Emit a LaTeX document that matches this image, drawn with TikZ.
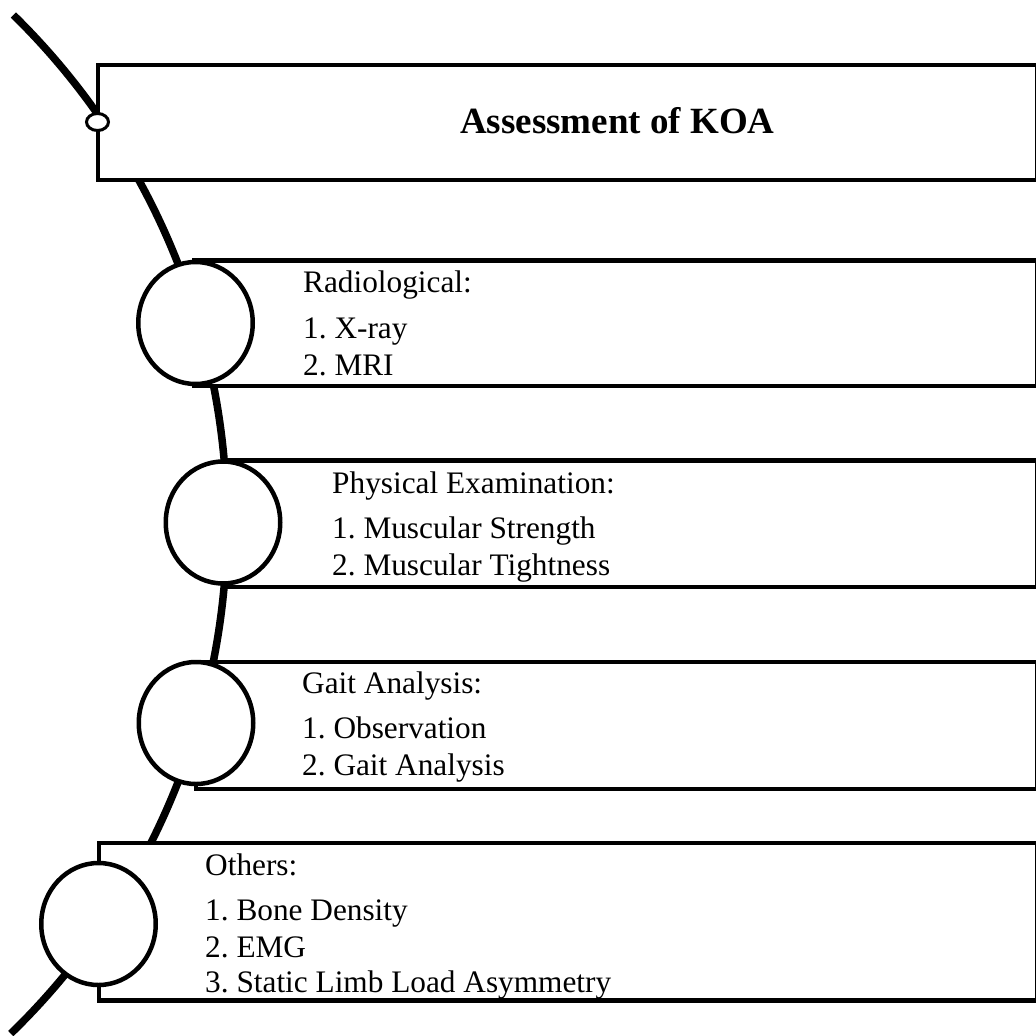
\documentclass[tikz,border=0pt]{standalone}
\usepackage{fontspec}
\setmainfont{Liberation Serif}
\usetikzlibrary{shapes.geometric}
\frenchspacing
\begin{document}
\begin{tikzpicture}[x=1pt,y=-1pt,
  panel/.style={draw=black,line width=4.5pt,fill=white,rectangle,inner sep=0pt},
  bead/.style={draw=black,line width=4.5pt,fill=white,ellipse,inner sep=0pt,
    minimum width=114.5pt,minimum height=122pt},
  ring/.style={draw=black,line width=3pt,fill=white,ellipse,inner sep=0pt,
    minimum width=22pt,minimum height=17pt},
  spine/.style={draw=black,line width=7.5pt},
  item/.style={anchor=base west,inner sep=0pt,font=\fontsize{31.3}{36}\selectfont},
  heading/.style={anchor=base west,inner sep=0pt,font=\fontsize{37}{42}\selectfont\bfseries}]
\useasboundingbox (0,0) rectangle (1036,1036);

% curved spine behind everything
\draw[spine] (-484,523) ++(-45.6:711) arc[start angle=-45.6,end angle=45.9,radius=711];

% panels
\node[panel,minimum width=939pt,minimum height=115pt] (top) at (567.5,122.5) {};
\node[panel,minimum width=843pt,minimum height=125.5pt] (p1) at (615.5,323.25) {};
\node[panel,minimum width=814pt,minimum height=126.5pt] (p2) at (630,523.75) {};
\node[panel,minimum width=841pt,minimum height=127pt] (p3) at (616.5,725.5) {};
\node[panel,minimum width=938pt,minimum height=157.5pt] (p4) at (568,921.75) {};

% beads on the spine
\node[bead] (c1) at (195.5,323) {};
\node[bead] (c2) at (223,522.5) {};
\node[bead] (c3) at (196,723) {};
\node[bead] (c4) at (98.5,924) {};
\node[ring] (knot) at (97.5,122) {};

% texts
\node[heading] (t0) at (460,133) {Assessment of KOA};

\node[item] (r0) at (303,292) {Radiological:};
\node[item] (r1) at (303,338) {1. X-ray};
\node[item] (r2) at (303,375) {2. MRI};

\node[item] (e0) at (332,493) {Physical Examination:};
\node[item] (e1) at (332,538) {1. Muscular Strength};
\node[item] (e2) at (332,575) {2. Muscular Tightness};

\node[item] (g0) at (302,693) {Gait Analysis:};
\node[item] (g1) at (302,738) {1. Observation};
\node[item] (g2) at (302,775) {2. Gait Analysis};

\node[item] (o0) at (205,875) {Others:};
\node[item] (o1) at (205,920) {1. Bone Density};
\node[item] (o2) at (205,957) {2. EMG};
\node[item] (o3) at (205,992) {3. Static Limb Load Asymmetry};
\end{tikzpicture}
\end{document}
